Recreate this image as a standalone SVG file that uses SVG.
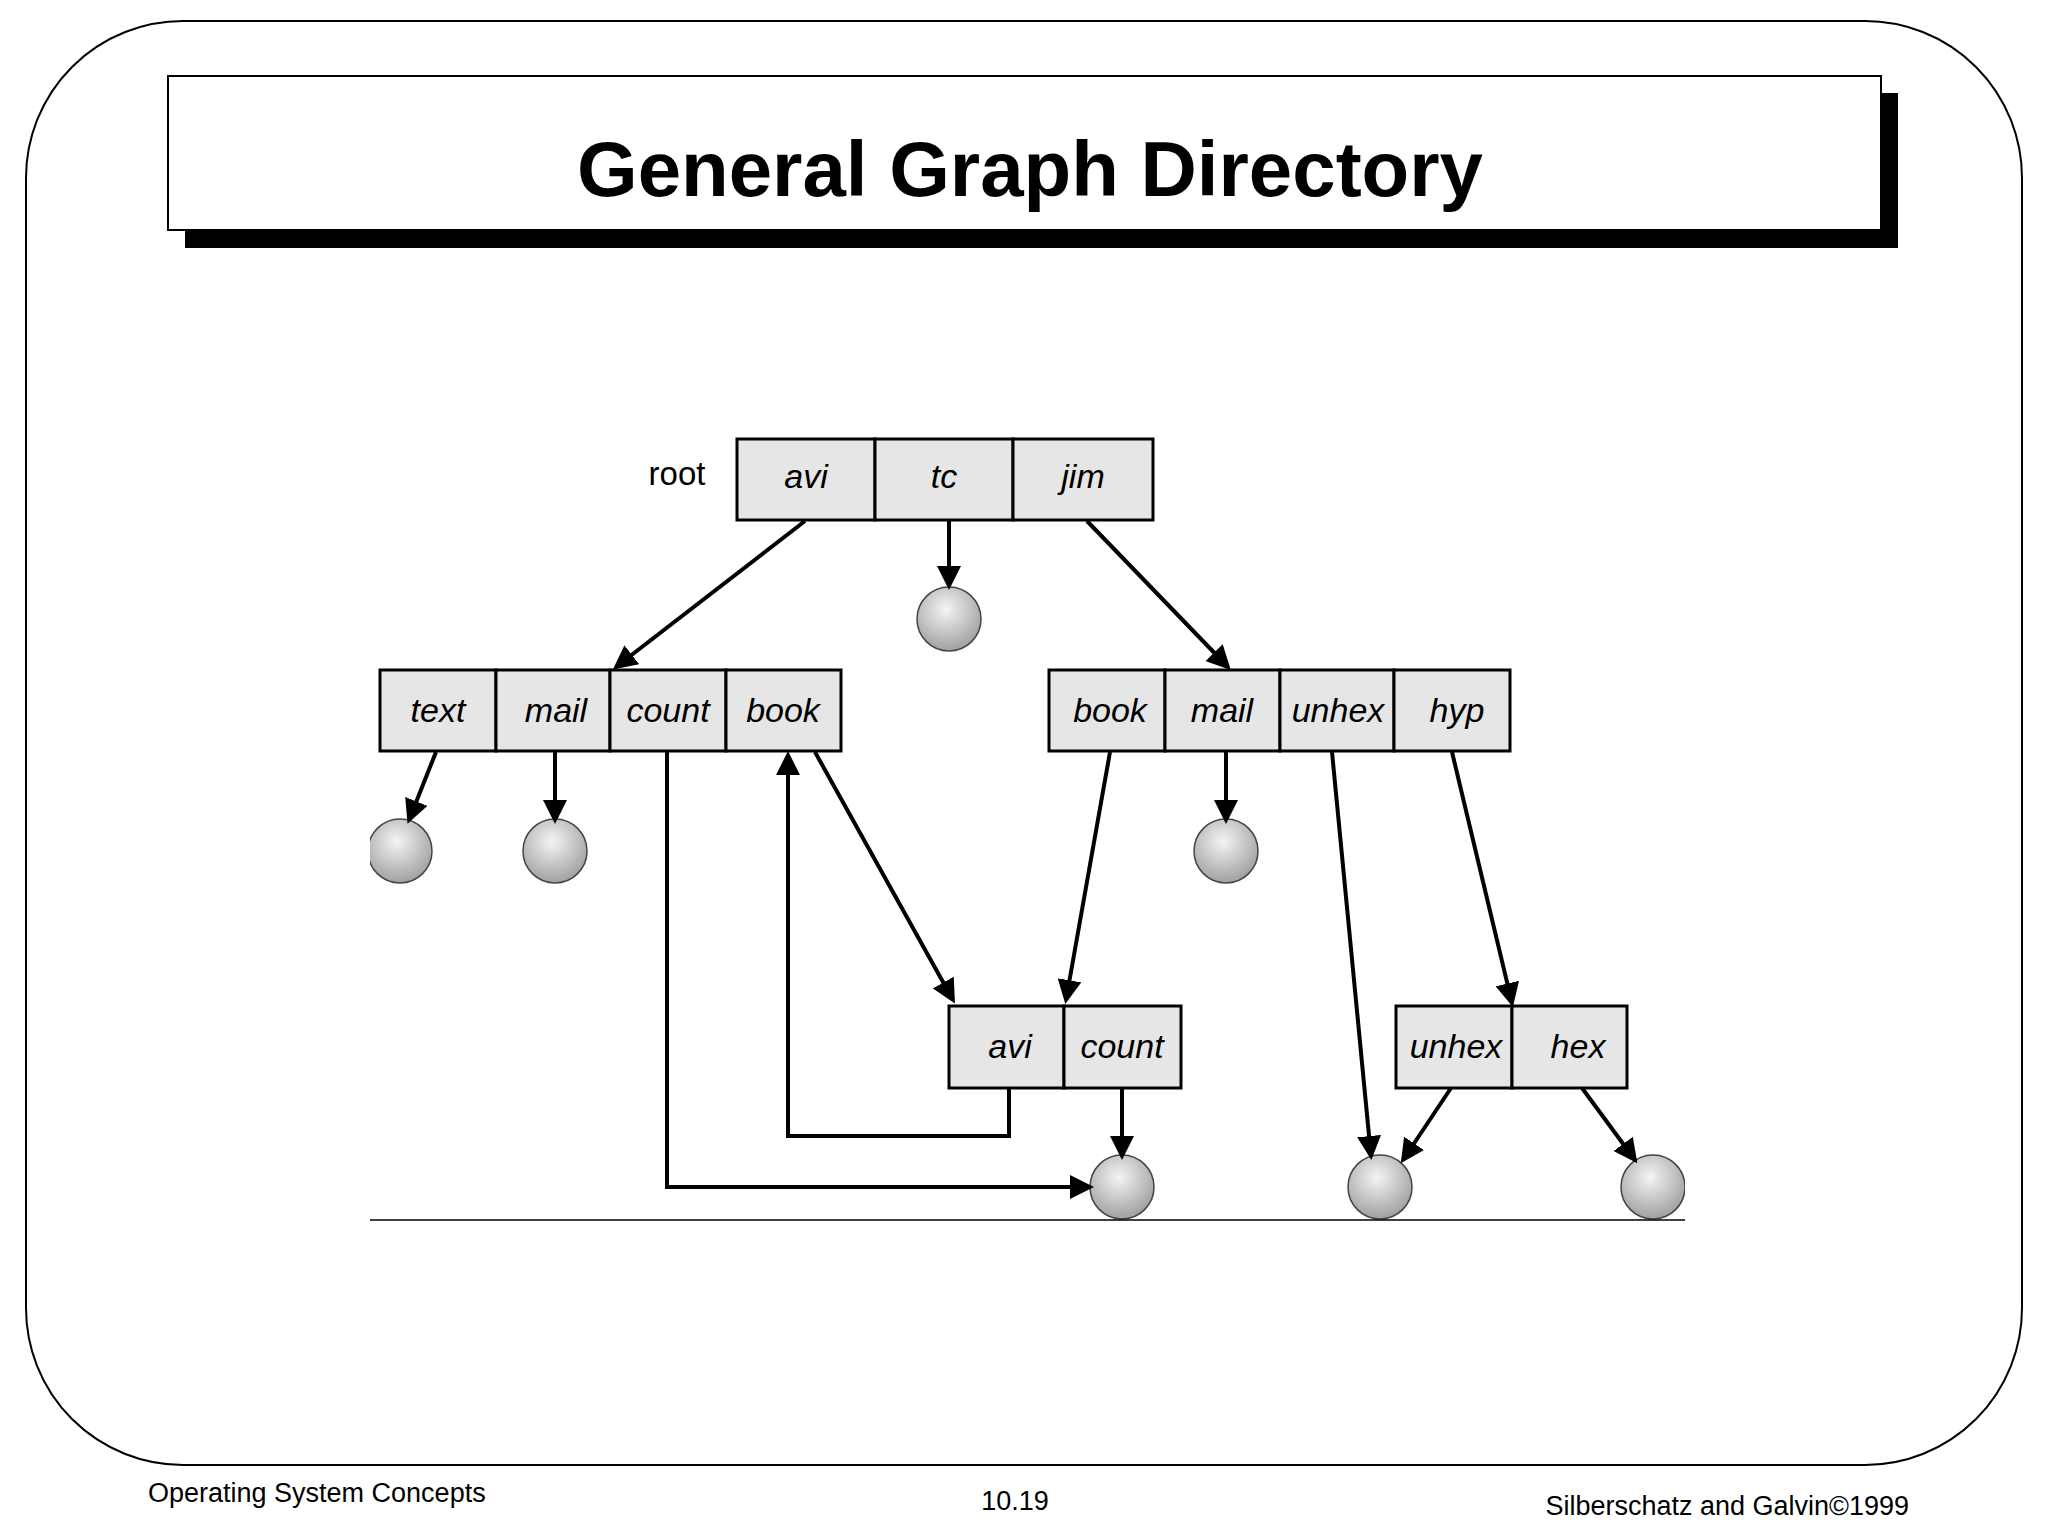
<svg xmlns="http://www.w3.org/2000/svg" width="2048" height="1536" viewBox="0 0 2048 1536">
<style>
.cell{fill:#e6e6e6;stroke:#000;stroke-width:3}
.lbl{font-family:"Liberation Sans",Arial,sans-serif;font-style:italic;font-size:34px;text-anchor:middle}
.c{stroke:#000;stroke-width:4;fill:none;marker-end:url(#ah)}
.ball{fill:url(#g);stroke:#444;stroke-width:1.5}
.ft{font-family:"Liberation Sans",Arial,sans-serif;font-size:27px}
</style>
<defs>
<marker id="ah" markerWidth="6" markerHeight="6" refX="5" refY="3" orient="auto" markerUnits="strokeWidth"><path d="M0,0 L6,3 L0,6 z" fill="#000"/></marker>
<radialGradient id="g" cx="0.45" cy="0.35" r="0.7"><stop offset="0" stop-color="#f4f4f4"/><stop offset="1" stop-color="#9a9a9a"/></radialGradient>
<clipPath id="clip"><rect x="370" y="0" width="1315" height="1536"/></clipPath>
</defs>
<rect width="2048" height="1536" fill="#fff"/>
<rect x="26" y="21" width="1996" height="1444" rx="157" ry="157" fill="none" stroke="#000" stroke-width="2"/>
<rect x="185" y="93" width="1713" height="155" fill="#000"/>
<rect x="168" y="76" width="1713" height="154" fill="#fff" stroke="#000" stroke-width="2"/>
<text x="1030" y="196" font-family="Liberation Sans,Arial,sans-serif" font-weight="bold" font-size="78" text-anchor="middle">General Graph Directory</text>
<text x="677" y="485" font-family="Liberation Sans,Arial,sans-serif" font-size="33" text-anchor="middle">root</text>
<g id="root"><rect class="cell" x="737" y="439" width="138" height="81"/><rect class="cell" x="875" y="439" width="138" height="81"/><rect class="cell" x="1013" y="439" width="140" height="81"/>
<text class="lbl" x="806" y="488">avi</text><text class="lbl" x="944" y="488">tc</text><text class="lbl" x="1083" y="488">jim</text></g>
<g id="avi"><rect class="cell" x="380" y="670" width="116" height="81"/><rect class="cell" x="496" y="670" width="114" height="81"/><rect class="cell" x="610" y="670" width="116" height="81"/><rect class="cell" x="726" y="670" width="115" height="81"/>
<text class="lbl" x="438" y="722">text</text><text class="lbl" x="556" y="722">mail</text><text class="lbl" x="668" y="722">count</text><text class="lbl" x="783" y="722">book</text></g>
<g id="jim"><rect class="cell" x="1049" y="670" width="116" height="81"/><rect class="cell" x="1165" y="670" width="115" height="81"/><rect class="cell" x="1280" y="670" width="114" height="81"/><rect class="cell" x="1394" y="670" width="116" height="81"/>
<text class="lbl" x="1110" y="722">book</text><text class="lbl" x="1222" y="722">mail</text><text class="lbl" x="1338" y="722">unhex</text><text class="lbl" x="1457" y="722">hyp</text></g>
<g id="avibook"><rect class="cell" x="949" y="1006" width="115" height="82"/><rect class="cell" x="1064" y="1006" width="117" height="82"/>
<text class="lbl" x="1010" y="1058">avi</text><text class="lbl" x="1122" y="1058">count</text></g>
<g id="hyp"><rect class="cell" x="1396" y="1006" width="116" height="82"/><rect class="cell" x="1512" y="1006" width="115" height="82"/>
<text class="lbl" x="1456" y="1058">unhex</text><text class="lbl" x="1578" y="1058">hex</text></g>
<g id="files" clip-path="url(#clip)">
<circle class="ball" cx="949" cy="619" r="32"/><circle class="ball" cx="400" cy="851" r="32"/><circle class="ball" cx="555" cy="851" r="32"/><circle class="ball" cx="1226" cy="851" r="32"/>
<circle class="ball" cx="1122" cy="1187" r="32"/><circle class="ball" cx="1380" cy="1187" r="32"/><circle class="ball" cx="1653" cy="1187" r="32"/>
</g>
<line x1="370" y1="1220" x2="1685" y2="1220" stroke="#000" stroke-width="1.5"/>
<g id="connectors">
<line class="c" x1="805" y1="521" x2="616" y2="667"/>
<line class="c" x1="949" y1="521" x2="949" y2="586"/>
<line class="c" x1="1087" y1="521" x2="1228" y2="667"/>
<line class="c" x1="436" y1="752" x2="409" y2="820"/>
<line class="c" x1="555" y1="752" x2="555" y2="820"/>
<polyline class="c" points="667,752 667,1187 1090,1187"/>
<line class="c" x1="815" y1="752" x2="953" y2="1000"/>
<polyline class="c" points="1009,1088 1009,1136 788,1136 788,755"/>
<line class="c" x1="1110" y1="752" x2="1066" y2="1000"/>
<line class="c" x1="1226" y1="752" x2="1226" y2="820"/>
<line class="c" x1="1332" y1="752" x2="1371" y2="1156"/>
<line class="c" x1="1452" y1="752" x2="1512" y2="1003"/>
<line class="c" x1="1122" y1="1088" x2="1122" y2="1156"/>
<line class="c" x1="1451" y1="1088" x2="1403" y2="1160"/>
<line class="c" x1="1582" y1="1088" x2="1635" y2="1160"/>
</g>
<text class="ft" x="148" y="1502">Operating System Concepts</text>
<text class="ft" x="1015" y="1510" text-anchor="middle">10.19</text>
<text class="ft" x="1909" y="1515" text-anchor="end">Silberschatz and Galvin©1999</text>
</svg>
